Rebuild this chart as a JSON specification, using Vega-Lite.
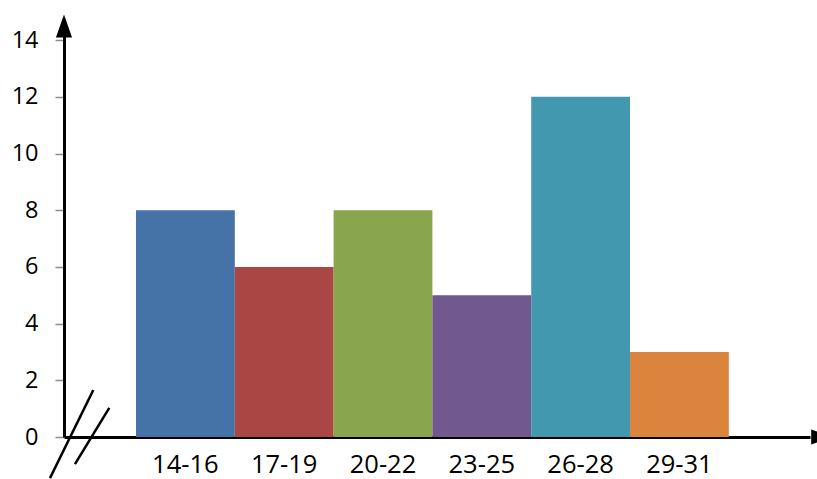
{
  "$schema": "https://vega.github.io/schema/vega-lite/v6.json",
  "autosize": {"type": "none"},
  "width": 746,
  "height": 411,
  "padding": {"left": 64, "top": 26, "right": 7, "bottom": 42},
  "background": "white",
  "config": {"view": {"stroke": null}, "font": "Open Sans"},
  "datasets": {
    "bars": [
      {"range": "14-16", "count": 8},
      {"range": "17-19", "count": 6},
      {"range": "20-22", "count": 8},
      {"range": "23-25", "count": 5},
      {"range": "26-28", "count": 12},
      {"range": "29-31", "count": 3}
    ],
    "breaks": [
      {"x1": -0.0188, "x2": 0.0393, "y1": -1.45, "y2": 1.66},
      {"x1": 0.0147, "x2": 0.0607, "y1": -0.96, "y2": 1.03}
    ],
    "arrows": [
      {"ax": 0, "ay": 14.5, "dir": "up"},
      {"ax": 1.017, "ay": 0, "dir": "right"}
    ]
  },
  "layer": [
    {
      "data": {"name": "bars"},
      "mark": {"type": "bar"},
      "encoding": {
        "x": {
          "field": "range", "type": "nominal", "sort": null,
          "scale": {"paddingInner": 0, "paddingOuter": 0.775, "align": 0.47},
          "axis": {
            "title": null, "labelAngle": 0, "ticks": false,
            "domainColor": "black", "domainWidth": 3,
            "labelFontSize": 25.5, "labelColor": "black", "labelPadding": 15
          }
        },
        "y": {
          "field": "count", "type": "quantitative",
          "scale": {"domain": [0, 14.5], "nice": false},
          "axis": {
            "title": null, "values": [0, 2, 4, 6, 8, 10, 12, 14], "grid": false,
            "domainColor": "black", "domainWidth": 3,
            "tickColor": "#8c8c8c", "tickSize": 9, "tickWidth": 1.5,
            "labelFontSize": 23.5, "labelColor": "black", "labelPadding": 17
          }
        },
        "color": {
          "field": "range", "type": "nominal", "sort": null, "legend": null,
          "scale": {"range": ["#4572A7", "#AA4643", "#89A54E", "#71588F", "#4198AF", "#DB843D"]}
        }
      }
    },
    {
      "data": {"name": "breaks"},
      "mark": {"type": "rule", "color": "black", "strokeWidth": 2.5},
      "encoding": {
        "x": {"field": "x1", "type": "quantitative", "scale": {"domain": [0, 1], "nice": false, "zero": false}, "axis": null},
        "x2": {"field": "x2"},
        "y": {"field": "y1", "type": "quantitative"},
        "y2": {"field": "y2"}
      }
    },
    {
      "data": {"name": "arrows"},
      "mark": {"type": "point", "filled": true, "color": "black", "opacity": 1, "size": 529},
      "encoding": {
        "x": {"field": "ax", "type": "quantitative", "scale": {"domain": [0, 1], "nice": false, "zero": false}, "axis": null},
        "y": {"field": "ay", "type": "quantitative"},
        "shape": {
          "field": "dir", "type": "nominal", "legend": null,
          "scale": {"domain": ["up", "right"], "range": ["M0,-1L0.7,1L-0.7,1Z", "M1,0L-1,-0.65L-1,0.65Z"]}
        }
      }
    }
  ],
  "resolve": {"scale": {"x": "independent", "color": "independent", "shape": "independent"}, "axis": {"x": "independent"}}
}
